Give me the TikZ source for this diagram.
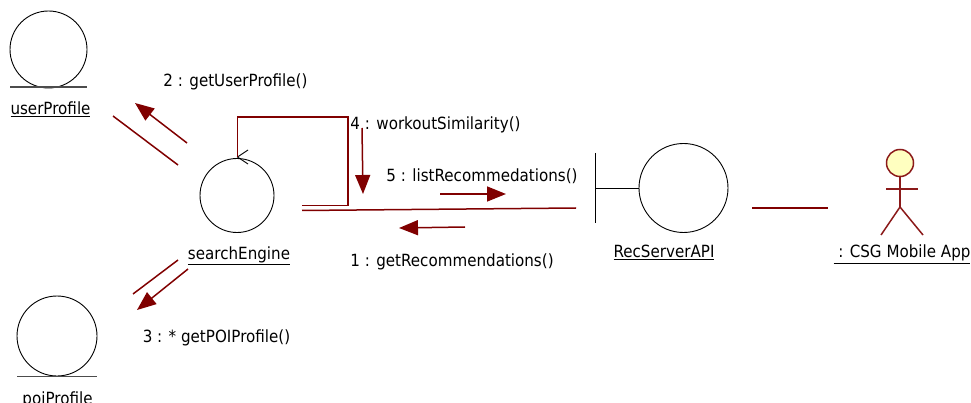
\documentclass[tikz,border=0pt]{standalone}
\usepackage{fontspec}
\setmainfont{DejaVu Sans}[FakeStretch=0.9]
\usetikzlibrary{arrows.meta}
\definecolor{lnk}{HTML}{800000}
\definecolor{actd}{HTML}{8B1A1A}
\definecolor{actf}{HTML}{FFFFC0}
\begin{document}
\begin{tikzpicture}[x=1pt,y=-1pt,
 obj/.style={circle,draw=black,line width=0.9pt,inner sep=0pt},
 base/.style={draw=black!70,line width=1.1pt},
 lbl/.style={font=\fontsize{16.8}{19}\selectfont,inner sep=0pt,anchor=base},
 lnkline/.style={draw=lnk,line width=1.5pt},
 msg/.style={draw=lnk,line width=1.5pt,-{Triangle[length=19pt,width=15pt]}},
 actor/.style={draw=actd,line width=1.5pt},
]
\useasboundingbox (0,0) rectangle (971,403);

% objects
\node[obj,minimum size=77pt] (userProfile) at (48.5,49.5) {};
\draw[base] (10,87) -- (87,87);
\node[lbl] (userProfileLbl) at (50.5,115) {\underline{userProfile}};

\node[obj,minimum size=74pt] (searchEngine) at (237,195.5) {};
\node[lbl] (searchEngineLbl) at (239,259) {\underline{searchEngine}};
\coordinate (seTop) at (237.5,157);
\draw[black,line width=0.9pt] (248,150) -- (seTop) -- (248,164);

\node[obj,minimum size=80pt] (poiProfile) at (57,336) {};
\draw[base] (17,376.5) -- (97,376.5);
\node[lbl] (poiProfileLbl) at (57.5,404) {poiProfile};

\node[obj,minimum size=89pt] (recServer) at (683.5,188) {};
\coordinate (rsBarTop) at (595,153);
\coordinate (rsBarBot) at (595,223);
\coordinate (rsBarMid) at (595,188);
\draw[black,line width=0.9pt] (rsBarTop) -- (rsBarBot);
\draw[black,line width=0.9pt] (rsBarMid) -- (recServer.west);
\node[lbl] (recServerLbl) at (664,258) {\underline{RecServerAPI}};

% actor
\node[circle,actor,fill=actf,minimum size=27pt,inner sep=0pt] (actorHead) at (900,163) {};
\coordinate (hip) at (900,207);
\coordinate (armL) at (886,189);
\coordinate (armR) at (918,189);
\coordinate (legL) at (881,235);
\coordinate (legR) at (923,235);
\draw[actor] (actorHead.south) -- (hip);
\draw[actor] (armL) -- (armR);
\draw[actor] (legL) -- (hip) -- (legR);
\node[lbl] (actorLbl) at (902,258) {\underline{\ : CSG Mobile App}};

% links
\coordinate (l1a) at (113,116); \coordinate (l1b) at (178,165);
\draw[lnkline] (l1a) -- (l1b);
\coordinate (l2a) at (178,260); \coordinate (l2b) at (133,294);
\draw[lnkline] (l2a) -- (l2b);
\coordinate (l3a) at (302,210.5); \coordinate (l3b) at (576,208);
\draw[lnkline] (l3a) -- (l3b);
\coordinate (l4a) at (752,208); \coordinate (l4b) at (828,208);
\draw[lnkline] (l4a) -- (l4b);
% self loop
\coordinate (loopEnd) at (302,205.5);
\draw[lnkline] (seTop) -- (237.5,117) -- (348,117) -- (348,205.5) -- (loopEnd);

% messages
\coordinate (m2a) at (187,143); \coordinate (m2b) at (135,103);
\draw[msg] (m2a) -- (m2b);
\node[lbl] (m2) at (235.5,87) {2 : getUserProfile()};

\coordinate (m4a) at (362,128); \coordinate (m4b) at (363,194);
\draw[msg] (m4a) -- (m4b);
\node[lbl] (m4) at (435.5,130) {4 : workoutSimilarity()};

\coordinate (m5a) at (440,194); \coordinate (m5b) at (506,194);
\draw[msg] (m5a) -- (m5b);
\node[lbl] (m5) at (482,182) {5 : listRecommedations()};

\coordinate (m1a) at (465,227); \coordinate (m1b) at (399,228);
\draw[msg] (m1a) -- (m1b);
\node[lbl] (m1) at (452,266) {1 : getRecommendations()};

\coordinate (m3a) at (188,269); \coordinate (m3b) at (137,310);
\draw[msg] (m3a) -- (m3b);
\node[lbl] (m3) at (216.5,342) {3 : * getPOIProfile()};
\end{tikzpicture}
\end{document}
